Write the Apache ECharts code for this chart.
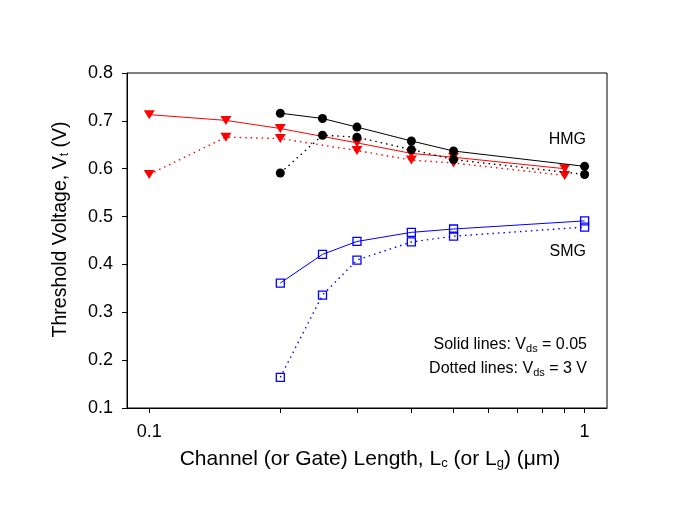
<!DOCTYPE html>
<html>
<head>
<meta charset="utf-8">
<script src="https://cdn.jsdelivr.net/npm/echarts@6/dist/echarts.min.js"></script>
<style>html,body{margin:0;padding:0;background:#fff}#c{width:678px;height:527px}</style>
</head>
<body>
<div id="c"></div>
<script>
// Channel length values (µm)
const L_hmg = [0.2, 0.25, 0.3, 0.4, 0.5, 1.0];
const L_red = [0.1, 0.15, 0.2, 0.3, 0.4, 0.5, 0.9];
const L_smg = [0.2, 0.25, 0.3, 0.4, 0.5, 1.0];
// Threshold voltages (V)
const hmgSolid = [0.716, 0.705, 0.687, 0.658, 0.637, 0.605];
const hmgDotted = [0.591, 0.670, 0.666, 0.640, 0.619, 0.588];
const redSolid = [0.713, 0.701, 0.684, 0.654, 0.632, 0.624, 0.600];
const redDotted = [0.588, 0.666, 0.663, 0.638, 0.618, 0.612, 0.586];
const smgSolid = [0.361, 0.421, 0.448, 0.467, 0.474, 0.491];
const smgDotted = [0.164, 0.336, 0.409, 0.447, 0.459, 0.478];
// Axis ticks
const xTickLabels = [0.1, 1];
const xMinorTicks = [0.1, 0.2, 0.3, 0.4, 0.5, 0.6, 0.7, 0.8, 0.9, 1];

const FONT = "'Liberation Sans', Arial, sans-serif";
const pair = (xs, ys) => xs.map((x, i) => [x, ys[i]]);

function lineSeries(name, xs, ys, color, dotted, symbol) {
  return {
    name, type: 'line', data: pair(xs, ys),
    lineStyle: { color, width: dotted ? 1.4 : 1, type: dotted ? [1.5, 4] : 'solid' },
    symbol: symbol.type, symbolSize: symbol.size, symbolRotate: symbol.rotate || 0,
    itemStyle: symbol.item, z: symbol.z || 2,
    animation: false, emphasis: { disabled: true }
  };
}

const circ = { type: 'circle', size: 9, item: { color: '#000' }, z: 4 };
const tri = { type: 'triangle', size: [11, 9], rotate: 180, item: { color: '#ff0000' }, z: 3 };
const sq = { type: 'rect', size: 8, item: { color: 'rgba(0,0,0,0)', borderColor: '#0000ff', borderWidth: 1.3 }, z: 3 };

const chart = echarts.init(document.getElementById('c'));
chart.setOption({
  backgroundColor: '#fff',
  animation: false,
  grid: { left: 127, top: 73, right: 71, bottom: 119, show: true, borderColor: '#000', borderWidth: 1, backgroundColor: 'transparent' },
  xAxis: {
    type: 'log', logBase: 10, min: 0.0889, max: 1.1257,
    axisLine: { show: true, lineStyle: { color: '#000', width: 1 } },
    axisTick: { show: true, inside: false, length: 5, lineStyle: { color: '#000' }, customValues: xMinorTicks },
    minorTick: { show: false },
    splitLine: { show: false },
    axisLabel: { color: '#000', fontFamily: FONT, fontSize: 18, margin: 15, customValues: xTickLabels,
      formatter: v => (Math.abs(v - 1) < 1e-9 ? '1' : '0.1') },
    name: 'Channel (or Gate) Length, L{s|c} (or L{s|g}) (\u03bcm)',
    nameLocation: 'middle', nameGap: 40,
    nameTextStyle: { color: '#000', fontFamily: FONT, fontSize: 21, padding: [0, 0, 0, 6],
      rich: { s: { fontFamily: FONT, fontSize: 13, verticalAlign: 'bottom', padding: [9, 0, 0, 0], color: '#000' } } }
  },
  yAxis: {
    type: 'value', min: 0.1, max: 0.8, interval: 0.1,
    axisLine: { show: true, lineStyle: { color: '#000', width: 1 } },
    axisTick: { show: true, inside: false, length: 5, lineStyle: { color: '#000' } },
    splitLine: { show: false },
    axisLabel: { color: '#000', fontFamily: FONT, fontSize: 18, margin: 14, formatter: v => v.toFixed(1) },
    name: 'Threshold Voltage, V{s|t} (V)',
    nameLocation: 'middle', nameGap: 56,
    nameTextStyle: { color: '#000', fontFamily: FONT, fontSize: 19.5, padding: [0, 0, 0, 22],
      rich: { s: { fontFamily: FONT, fontSize: 12, verticalAlign: 'bottom', padding: [8, 0, 0, 0], color: '#000' } } }
  },
  series: [
    lineSeries('HMG solid', L_hmg, hmgSolid, '#000', false, circ),
    lineSeries('HMG dotted', L_hmg, hmgDotted, '#000', true, circ),
    lineSeries('Red solid', L_red, redSolid, '#ff0000', false, tri),
    lineSeries('Red dotted', L_red, redDotted, '#ff0000', true, tri),
    lineSeries('SMG solid', L_smg, smgSolid, '#0000ff', false, sq),
    lineSeries('SMG dotted', L_smg, smgDotted, '#0000ff', true, sq)
  ],
  graphic: [
    { type: 'text', right: 92, top: 132, style: { text: 'HMG', font: '16px ' + FONT, fill: '#000' } },
    { type: 'text', right: 92, top: 244, style: { text: 'SMG', font: '16px ' + FONT, fill: '#000' } },
    { type: 'text', right: 91, top: 337, style: { text: 'Solid lines: V{s|ds} = 0.05', font: '16px ' + FONT, fill: '#000',
        rich: { s: { fontSize: 11, fontFamily: FONT, fill: '#000', padding: [8, 0, 0, 0] } } } },
    { type: 'text', right: 91, top: 361, style: { text: 'Dotted lines: V{s|ds} = 3 V', font: '16px ' + FONT, fill: '#000',
        rich: { s: { fontSize: 11, fontFamily: FONT, fill: '#000', padding: [8, 0, 0, 0] } } } }
  ]
});
</script>
</body>
</html>
